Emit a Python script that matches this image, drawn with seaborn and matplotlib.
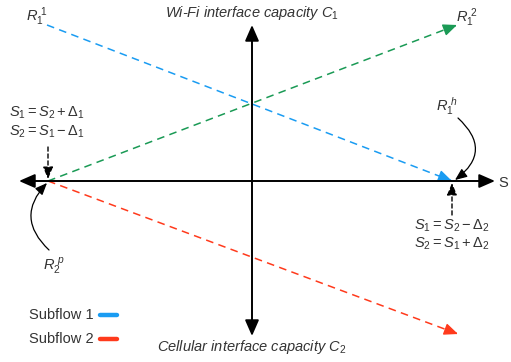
import matplotlib
matplotlib.use("Agg")
import matplotlib.pyplot as plt
import seaborn as sns
import pandas as pd

# ---- data (diagram coordinates, pixel-like units) ----
series = ["Subflow 1", "Subflow 1", "Subflow 2-green", "Subflow 2-green", "Subflow 2", "Subflow 2"]
xs = [47, 452, 48, 457, 48, 458]
ys = [25, 181, 181, 25, 181, 334]
colors = {"Subflow 1": "#1a9cf2", "Subflow 2-green": "#1a9a55", "Subflow 2": "#ff3a1c"}

axis_h = [19, 495]   # horizontal axis x-extent
axis_v = [25, 336]   # vertical axis y-extent
origin = [252, 181]

labels = ["Wi-Fi interface capacity $C_1$", "Cellular interface capacity $C_2$"]
legend_names = ["Subflow 1", "Subflow 2"]

sns.set_theme(style="white")
plt.rcParams["font.family"] = ["Liberation Sans", "DejaVu Sans"]
plt.rcParams["mathtext.fontset"] = "custom"
plt.rcParams["mathtext.rm"] = "Liberation Sans"
plt.rcParams["mathtext.it"] = "Liberation Sans:italic"

fig = plt.figure(figsize=(5.11, 3.62), dpi=100)
ax = fig.add_axes([0, 0, 1, 1])
ax.set_xlim(0, 511)
ax.set_ylim(362, 0)
ax.axis("off")

df = pd.DataFrame({"x": xs, "y": ys, "series": series})
sns.lineplot(data=df, x="x", y="y", hue="series", palette=colors, sort=False,
             estimator=None, units="series", legend=False, ax=ax, linewidth=1.1)
for ln in ax.lines:
    ln.set_dashes((5, 3.5))

# arrow heads at line ends
for s in colors:
    d = df[df.series == s]
    x0, x1 = d.x.iloc[0], d.x.iloc[1]
    y0, y1 = d.y.iloc[0], d.y.iloc[1]
    fx = x0 + (x1 - x0) * 0.97
    fy = y0 + (y1 - y0) * 0.97
    ax.annotate("", xy=(x1, y1), xytext=(fx, fy),
                arrowprops=dict(arrowstyle="-|>,head_length=0.7,head_width=0.3",
                                color=colors[s], lw=1.0, shrinkA=0, shrinkB=0))

# axes
ax.annotate("", xy=(axis_h[0], origin[1]), xytext=(axis_h[1], origin[1]),
            arrowprops=dict(arrowstyle="<|-|>,head_length=0.8,head_width=0.35",
                            color="black", lw=1.4, shrinkA=0, shrinkB=0))
ax.annotate("", xy=(origin[0], axis_v[0]), xytext=(origin[0], axis_v[1]),
            arrowprops=dict(arrowstyle="<|-|>,head_length=0.8,head_width=0.35",
                            color="black", lw=1.4, shrinkA=0, shrinkB=0))

tc = "#333333"
fs = 10.5
ax.text(252, 13, labels[0], ha="center", va="center", style="italic", fontsize=fs, color=tc)
ax.text(252, 347, labels[1], ha="center", va="center", style="italic", fontsize=fs, color=tc)
ax.text(498, 183, "S", ha="left", va="center", fontsize=fs, color=tc)

ax.text(26, 17, r"$R_1^{\ 1}$", ha="left", va="center", fontsize=fs, color=tc)
ax.text(456, 18, r"$R_1^{\ 2}$", ha="left", va="center", fontsize=fs, color=tc)
ax.text(436, 106, r"$R_1^{\ h}$", ha="left", va="center", fontsize=fs, color=tc)
ax.text(43, 266, r"$R_2^{\ p}$", ha="left", va="center", fontsize=fs, color=tc)

ax.text(9, 113, r"$S_1 = S_2 + \Delta_1$", ha="left", va="center", fontsize=fs, color=tc)
ax.text(9, 132, r"$S_2 = S_1 - \Delta_1$", ha="left", va="center", fontsize=fs, color=tc)
ax.text(414, 226, r"$S_1 = S_2 - \Delta_2$", ha="left", va="center", fontsize=fs, color=tc)
ax.text(414, 244, r"$S_2 = S_1 + \Delta_2$", ha="left", va="center", fontsize=fs, color=tc)

# dashed pointer arrows
ax.annotate("", xy=(48, 179), xytext=(48, 147),
            arrowprops=dict(arrowstyle="-|>,head_length=0.6,head_width=0.25",
                            color="black", lw=1.0, ls=(0, (3, 2)), shrinkA=0, shrinkB=0))
ax.annotate("", xy=(452, 183), xytext=(452, 215),
            arrowprops=dict(arrowstyle="-|>,head_length=0.6,head_width=0.25",
                            color="black", lw=1.0, ls=(0, (3, 2)), shrinkA=0, shrinkB=0))

# curved pointer arrows
ax.annotate("", xy=(455, 180), xytext=(458, 118),
            arrowprops=dict(arrowstyle="-|>,head_length=0.6,head_width=0.25",
                            color="black", lw=0.9, shrinkA=0, shrinkB=0,
                            connectionstyle="arc3,rad=-0.6"))
ax.annotate("", xy=(47, 183), xytext=(49, 250),
            arrowprops=dict(arrowstyle="-|>,head_length=0.6,head_width=0.25",
                            color="black", lw=0.9, shrinkA=0, shrinkB=0,
                            connectionstyle="arc3,rad=-0.5"))

# legend
for i, name in enumerate(legend_names):
    yy = 315 + i * 24
    ax.text(29, yy, name, ha="left", va="center", fontsize=fs, color=tc)
    ax.plot([100, 117], [yy, yy], color=colors[name], lw=3.2, solid_capstyle="round")

fig.savefig("out.png", dpi=100)
